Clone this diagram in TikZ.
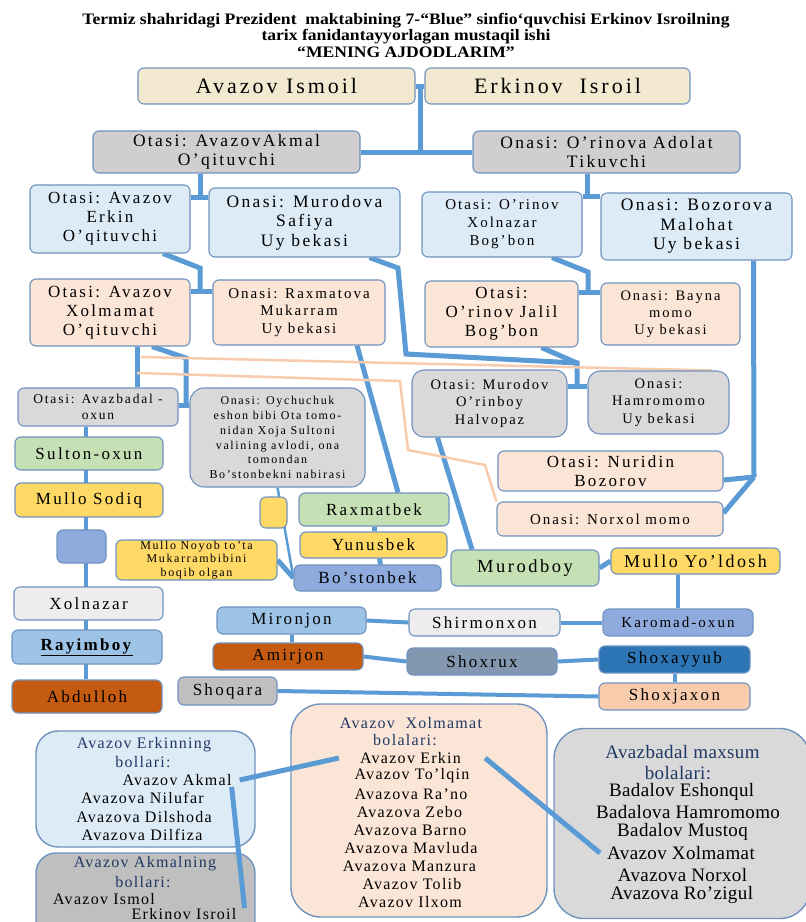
\documentclass[tikz,border=0pt]{standalone}
\usepackage{fontspec}
\setmainfont{Liberation Serif}[LetterSpace=13.5]
\newfontfamily\titlefont{Liberation Serif}[FakeStretch=1.1]
\usetikzlibrary{calc}
\pgfdeclarelayer{bg}
\pgfsetlayers{bg,main}
\definecolor{bord}{HTML}{6F92BF}
\definecolor{conblue}{HTML}{5B9BD5}
\definecolor{peachline}{HTML}{F8CBAD}
\definecolor{beige}{HTML}{F3E8D0}
\definecolor{grayA}{HTML}{D0CECE}
\definecolor{lblue}{HTML}{DDEBF7}
\definecolor{peach}{HTML}{FBE5D6}
\definecolor{grayB}{HTML}{D9D9D9}
\definecolor{mygreen}{HTML}{C5E0B4}
\definecolor{myyellow}{HTML}{FFD966}
\definecolor{myblue}{HTML}{8FAADC}
\definecolor{lgray}{HTML}{EDEDED}
\definecolor{skyb}{HTML}{9DC3E6}
\definecolor{rust}{HTML}{C55A11}
\definecolor{slate}{HTML}{8497B0}
\definecolor{dblue}{HTML}{2E75B6}
\definecolor{midgray}{HTML}{BFBFBF}
\definecolor{salmon}{HTML}{F8CBAD}
\definecolor{navy}{HTML}{203864}
\newcommand\fsz[2]{\fontsize{#1}{#2}\selectfont}
\begin{document}
\begin{tikzpicture}[x=1pt,y=-1pt,
  box/.style={draw=bord,line width=1.1pt,rounded corners=6pt,inner sep=0pt,align=center},
  wh/.style 2 args={minimum width=#1,minimum height=#2},
  con/.style={draw=conblue,line width=5pt},
  conm/.style={draw=conblue,line width=4pt},
  cont/.style={draw=conblue,line width=2.5pt},
  pline/.style={draw=peachline,line width=2.5pt},
  ln/.style={inner sep=0pt,font=\fsz{16}{18}\addfontfeatures{LetterSpace=8}},
  lnb/.style={inner sep=0pt,font=\fsz{19}{21}\addfontfeatures{LetterSpace=2}}]
\useasboundingbox (0,0) rectangle (806,922);
\begin{pgfonlayer}{bg}
\fill[white] (0,0) rectangle (806,922);
\end{pgfonlayer}

\node[inner sep=0pt,font=\titlefont\bfseries\fsz{16}{16.5},align=center] (title) at (406,35)
 {Termiz shahridagi Prezident\ \ maktabining 7-“Blue” sinfio‘quvchisi Erkinov Isroilning\\tarix fanidantayyorlagan mustaqil ishi\\“MENING AJDODLARIM”};

\node[box,fill=beige,wh={277}{36},font=\fsz{22}{24}] (ismoil) at (276.5,86) {Avazov Ismoil};
\node[box,fill=beige,wh={265}{36},font=\fsz{22}{24}] (isroil) at (557.5,86) {Erkinov\ \ Isroil};
\node[box,fill=grayA,wh={267}{42},font=\fsz{17.5}{19.5}] (akmal) at (226.5,152) {Otasi: AvazovAkmal\\O’qituvchi};
\node[box,fill=grayA,wh={267}{42},font=\fsz{17.5}{19.5}] (adolat) at (606.5,152) {Onasi: O’rinova Adolat\\Tikuvchi};
\node[box,fill=lblue,wh={160}{68},font=\fsz{17}{19}] (erkin) at (110,219) {Otasi: Avazov\\Erkin\\O’qituvchi};
\node[box,fill=lblue,wh={191}{69},font=\fsz{17.5}{19.5}] (safiya) at (304.5,222.5) {Onasi: Murodova\\Safiya\\Uy bekasi};
\node[box,fill=lblue,wh={160}{65},font=\fsz{15}{18}] (xolnazarO) at (502,224.5) {Otasi: O’rinov\\Xolnazar\\Bog’bon};
\node[box,fill=lblue,wh={191}{67},font=\fsz{17.5}{19.5}] (malohat) at (696.5,226.5) {Onasi: Bozorova\\Malohat\\Uy bekasi};
\node[box,fill=peach,wh={160}{67},font=\fsz{17}{19}] (xolmamat) at (110,312.5) {Otasi: Avazov\\Xolmamat\\O’qituvchi};
\node[box,fill=peach,wh={172}{65},font=\fsz{15}{17.5}] (mukarram) at (299,312.5) {Onasi: Raxmatova\\Mukarram\\Uy bekasi};
\node[box,fill=peach,wh={153}{66},font=\fsz{17}{19}] (jalil) at (501.5,314) {Otasi:\\O’rinov Jalil\\Bog’bon};
\node[box,fill=peach,wh={139}{62},font=\fsz{14.5}{17}] (bayna) at (670.5,314) {Onasi: Bayna\\momo\\Uy bekasi};
\node[box,fill=grayB,wh={160}{38},font=\fsz{13.5}{16}] (avazbadal) at (98,407) {Otasi: Avazbadal -\\oxun};
\node[box,fill=grayB,wh={175}{99},rounded corners=14pt,font=\fsz{12}{14.8}] (oychuchuk) at (277.5,437.5)
 {Onasi: Oychuchuk\\eshon bibi Ota tomo-\\nidan Xoja Sultoni\\valining avlodi, ona\\tomondan\\Bo’stonbekni nabirasi};
\node[box,fill=grayB,wh={155}{67},rounded corners=12pt,font=\fsz{14.5}{17.5}] (murodov) at (489.5,403.5) {Otasi: Murodov\\O’rinboy\\Halvopaz};
\node[box,fill=grayB,wh={141}{63},rounded corners=12pt,font=\fsz{14.5}{17.5}] (hamro) at (658.5,402.5) {Onasi:\\Hamromomo\\Uy bekasi};
\node[box,fill=peach,wh={225}{40},font=\fsz{17}{19}] (nuridin) at (610.5,471) {Otasi: Nuridin\\Bozorov};
\node[box,fill=peach,wh={226}{34},font=\fsz{15}{17}] (norxol) at (610,519) {Onasi: Norxol momo};
\node[box,fill=mygreen,wh={148}{33},font=\fsz{17}{19}] (sulton) at (89,453.5) {Sulton-oxun};
\node[box,fill=myyellow,wh={148}{34},font=\fsz{17}{19}] (sodiq) at (89,500) {Mullo Sodiq};
\node[box,fill=myblue,wh={49}{33}] (bluebox) at (81.5,546.5) {};
\node[box,fill=lgray,wh={149}{33},font=\fsz{17}{19}] (xolnazar) at (88.5,603.5) {Xolnazar};
\node[box,fill=skyb,wh={150}{34},font=\fsz{17}{19}] (rayimboy) at (87,647) {\underline{\textbf{Rayimboy}}};
\node[box,fill=rust,wh={150}{33},font=\fsz{17}{19}] (abdulloh) at (87,696.5) {Abdulloh};
\node[box,fill=myyellow,wh={27}{31}] (smally) at (273.5,512.5) {};
\node[box,fill=myyellow,wh={161}{40},font=\fsz{12}{13.5}] (noyob) at (196.5,560) {Mullo Noyob to’ta\\Mukarrambibini\\boqib olgan};
\node[box,fill=mygreen,wh={150}{33},font=\fsz{17}{19}] (raxmatbek) at (374,509.5) {Raxmatbek};
\node[box,fill=myyellow,wh={147}{26},font=\fsz{17}{19}] (yunusbek) at (373.5,545) {Yunusbek};
\node[box,fill=myblue,wh={147}{26},font=\fsz{17}{19}] (bostonbek) at (367.5,578) {Bo’stonbek};
\node[box,fill=mygreen,wh={148}{36},font=\fsz{18.5}{20}] (murodboy) at (525,568) {Murodboy};
\node[box,fill=myyellow,wh={169}{26},font=\fsz{18}{20}] (yoldosh) at (695.5,561) {Mullo Yo’ldosh};
\node[box,fill=skyb,wh={149}{27},font=\fsz{17}{19}] (mironjon) at (291.5,620.5) {Mironjon};
\node[box,fill=lgray,wh={151}{27},font=\fsz{17}{19}] (shirmonxon) at (484.5,622.5) {Shirmonxon};
\node[box,fill=myblue,wh={150}{27},font=\fsz{15}{17}] (karomad) at (678,622.5) {Karomad-oxun};
\node[box,fill=rust,wh={150}{27},font=\fsz{17}{19}] (amirjon) at (288,656.5) {Amirjon};
\node[box,fill=slate,wh={150}{27},font=\fsz{17}{19}] (shoxrux) at (482,661.5) {Shoxrux};
\node[box,fill=dblue,wh={151}{27},font=\fsz{17}{19}] (shoxayyub) at (674.5,659.5) {Shoxayyub};
\node[box,fill=midgray,wh={99}{28},font=\fsz{17}{19}] (shoqara) at (227.5,691) {Shoqara};
\node[box,fill=salmon,wh={151}{27},font=\fsz{17}{19}] (shoxjaxon) at (674.5,696.5) {Shoxjaxon};

% bottom boxes
\node[box,fill=lblue,line width=1.4pt,wh={219}{116},rounded corners=22pt] (erkinB) at (145.5,789) {};
\node[box,fill=midgray,line width=1.4pt,wh={219}{90},rounded corners=20pt] (akmalB) at (145.5,898) {};
\node[box,fill=peach,line width=1.4pt,wh={256}{213},rounded corners=30pt] (xolmamatB) at (419,810.5) {};
\node[box,fill=grayB,line width=1.4pt,wh={256}{190},rounded corners=30pt] (avazbadalB) at (682,823.5) {};

\node[ln,text=navy] (eb1) at (144,745) {Avazov Erkinning};
\node[ln,text=navy] (eb2) at (143,762) {bollari:};
\node[ln] (eb3) at (177,780) {Avazov Akmal};
\node[ln] (eb4) at (142.5,798) {Avazova Nilufar};
\node[ln] (eb5) at (144,817) {Avazova Dilshoda};
\node[ln] (eb6) at (142,835) {Avazova Dilfiza};

\node[ln,text=navy] (ab1) at (145,864) {Avazov Akmalning};
\node[ln,text=navy] (ab2) at (143,882) {bollari:};
\node[ln] (ab3) at (104,899) {Avazov Ismol};
\node[ln] (ab4) at (184,914) {Erkinov Isroil};

\node[ln,text=navy] (xb1) at (411,723) {Avazov\ \ Xolmamat};
\node[ln,text=navy] (xb2) at (405,740) {bolalari:};
\node[ln] (xb3) at (410.5,758) {Avazov Erkin};
\node[ln] (xb4) at (412,776) {Avazov To’lqin};
\node[ln] (xb5) at (411,794) {Avazova Ra’no};
\node[ln] (xb6) at (409.5,812) {Avazova Zebo};
\node[ln] (xb7) at (410,830) {Avazova Barno};
\node[ln] (xb8) at (411,848) {Avazova Mavluda};
\node[ln] (xb9) at (409.5,866) {Avazova Manzura};
\node[ln] (xb10) at (412,884) {Avazov Tolib};
\node[ln] (xb11) at (410,902) {Avazov Ilxom};

\node[lnb,text=navy] (bb1) at (682.5,752) {Avazbadal maxsum};
\node[lnb,text=navy] (bb2) at (678,773) {bolalari:};
\node[lnb] (bb3) at (681.7,792) {Badalov Eshonqul};
\node[lnb] (bb4) at (688,812) {Badalova Hamromomo};
\node[lnb] (bb5) at (682.5,832) {Badalov Mustoq};
\node[lnb] (bb6) at (681,853) {Avazov Xolmamat};
\node[lnb] (bb7) at (682.5,875) {Avazova Norxol};
\node[lnb] (bb8) at (681.7,895) {Avazova Ro’zigul};

\begin{pgfonlayer}{bg}
\coordinate (j1) at ($(ismoil.east)!.5!(isroil.west)$);
\draw[con] (ismoil.east) -- (isroil.west);
\draw[con] (j1) -- (j1 |- akmal.east);
\draw[con] (akmal.east) -- (adolat.west);
\coordinate (j2) at (200,197);
\draw[con] (j2 |- akmal.south) -- (j2);
\draw[con] (j2 -| erkin.east) -- (j2 -| safiya.west);
\coordinate (j3) at (587,196);
\draw[con] (j3 |- adolat.south) -- (j3);
\draw[con] (j3 -| xolnazarO.east) -- (j3 -| malohat.west);
\coordinate (k4) at (200,268);
\coordinate (j4) at (200,291);
\draw[con] ([xshift=53pt]erkin.south) -- (k4) -- (j4);
\draw[con] (j4 -| xolmamat.east) -- (j4 -| mukarram.west);
\coordinate (k5) at (588,272);
\coordinate (j5) at (588,292);
\draw[con] ([xshift=50pt]xolnazarO.south) -- (k5) -- (j5);
\draw[con] (j5 -| jalil.east) -- (j5 -| bayna.west);
\coordinate (k6a) at (398,268);
\coordinate (k6b) at (406,354);
\coordinate (k6) at (577,363);
\coordinate (j6) at (577,386);
\draw[con] ([xshift=65pt]safiya.south) -- (k6a) -- (k6b) -- (k6) -- (j6);
\draw[con] ([xshift=40pt]jalil.south) -- (k6);
\draw[con] (j6 -| murodov.east) -- (j6 -| hamro.west);
\coordinate (j7) at (754,477);
\draw[con] ([xshift=57pt]malohat.south) -- (j7);
\draw[con] (j7) -- ([yshift=-9pt]nuridin.east);
\draw[con] (j7) -- ([yshift=6pt]norxol.east);
\coordinate (x8) at ([xshift=27pt]xolmamat.south);
\draw[con] (x8) -- (x8 |- avazbadal.north);
\coordinate (k8) at (186,358);
\coordinate (j8) at (186,405);
\draw[con] ([xshift=42pt]xolmamat.south) -- (k8) -- (j8);
\draw[con] (j8 -| avazbadal.east) -- (j8 -| oychuchuk.west);
\draw[con] ([xshift=58pt]mukarram.south) -- ([xshift=24pt]raxmatbek.north);
\draw[con] (raxmatbek.south) -- (raxmatbek.south |- yunusbek.north);
\draw[con] ([xshift=6pt]yunusbek.south) -- ([xshift=13pt]bostonbek.north);
\draw[cont] (oychuchuk.south) -- (bostonbek.west);
\draw[con] (noyob.east) -- (bostonbek.west);
\draw[con] ([xshift=-52pt]murodov.south) -- ([xshift=-53pt]murodboy.north);
\draw[con] (murodboy.east) -- (yoldosh.west);
\draw[conm] (yoldosh.south -| karomad.north) -- (karomad.north);
\coordinate (lc) at (86,0);
\draw[conm] (lc |- avazbadal.south) -- (lc |- abdulloh.north);
\draw[conm] (mironjon.east) -- (shirmonxon.west);
\draw[conm] (shirmonxon.east) -- (karomad.west);
\draw[conm] (mironjon.south) -- (mironjon.south |- amirjon.north);
\draw[conm] (amirjon.east) -- (shoxrux.west);
\draw[conm] (shoxrux.east) -- (shoxayyub.west);
\draw[conm] (shoxayyub.south) -- (shoxayyub.south |- shoxjaxon.north);
\draw[conm] (shoqara.east) -- (shoxjaxon.west);
\coordinate (pa) at (141,357);
\coordinate (pb) at (137,373);
\draw[pline] (pa) -- ([xshift=53pt]hamro.north);
\draw[pline] (pb) -- (400,381) -- (408,450) -- (485,465) -- (norxol.north west);
\end{pgfonlayer}

\draw[con] ([xshift=8pt]eb3.east) -- ([xshift=-21pt]xb3.west);
\draw[con] ([yshift=-7pt]eb3.east) -- ([xshift=8pt]ab4.north east);
\draw[con] ([xshift=24pt]xb3.east) -- ([xshift=-7pt]bb6.west);
\end{tikzpicture}
\end{document}
